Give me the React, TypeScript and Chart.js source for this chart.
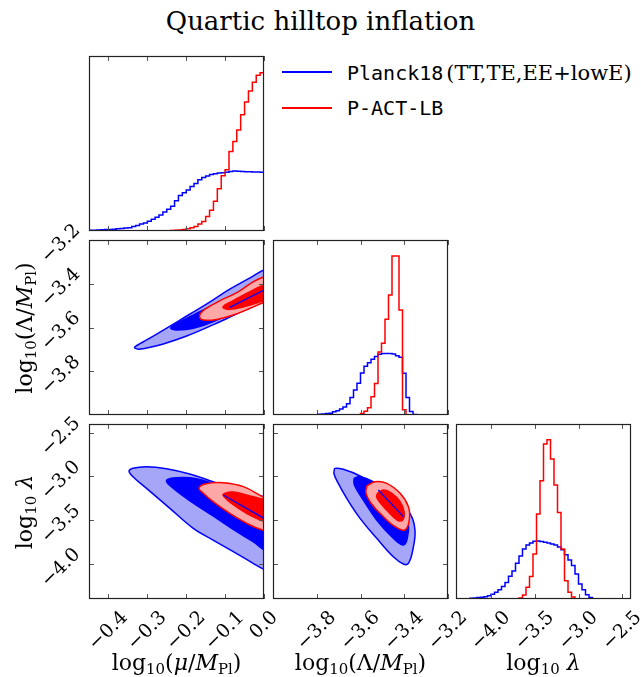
import React, { useEffect, useRef } from "react";
import { Chart, registerables } from "chart.js";
Chart.register(...registerables);

// ---------------- axes ----------------
const muRange = [-0.45, 0.0];
const bigLambdaRange = [-4.0, -3.2];
const lambdaRange = [-4.4, -2.4];
const histRange = [0, 1];
const muTicks = [-0.4, -0.3, -0.2, -0.1, 0.0];
const bigLambdaTicks = [-3.8, -3.6, -3.4, -3.2];
const lambdaTicks = [-4.0, -3.5, -3.0, -2.5];

// ---------------- 1D histograms ----------------
const muBinStart = -0.45;
const muBinWidth = 0.01;
const muHistPlanck = [0.004, 0.005, 0.006, 0.007, 0.008, 0.009, 0.010, 0.013, 0.015, 0.017, 0.019, 0.026, 0.032, 0.040, 0.046, 0.056, 0.067, 0.079, 0.092, 0.108, 0.125, 0.141, 0.173, 0.203, 0.219, 0.235, 0.254, 0.272, 0.293, 0.306, 0.314, 0.323, 0.327, 0.331, 0.333, 0.336, 0.340, 0.343, 0.341, 0.340, 0.339, 0.338, 0.337, 0.337, 0.336];
const muHistACT = [0, 0, 0, 0, 0, 0, 0, 0, 0, 0, 0, 0, 0, 0, 0, 0, 0, 0, 0, 0, 0.002, 0.003, 0.005, 0.006, 0.008, 0.013, 0.019, 0.026, 0.040, 0.055, 0.083, 0.119, 0.170, 0.242, 0.316, 0.350, 0.454, 0.512, 0.577, 0.665, 0.737, 0.800, 0.850, 0.890, 0.904];

const bigLambdaBinStart = -4.0;
const bigLambdaBinWidth = 0.016;
const bigLambdaHistPlanck = [0, 0, 0, 0, 0, 0, 0, 0, 0, 0, 0, 0, 0.002, 0.004, 0.006, 0.008, 0.010, 0.018, 0.025, 0.034, 0.046, 0.065, 0.100, 0.143, 0.181, 0.240, 0.278, 0.298, 0.318, 0.335, 0.347, 0.351, 0.352, 0.351, 0.349, 0.339, 0.330, 0.238, 0.100, 0.020, 0.003, 0, 0, 0, 0, 0, 0, 0, 0, 0];
const bigLambdaHistACT = [0, 0, 0, 0, 0, 0, 0, 0, 0, 0, 0, 0, 0, 0, 0, 0, 0, 0, 0, 0, 0, 0, 0, 0, 0.002, 0.008, 0.021, 0.042, 0.105, 0.180, 0.360, 0.410, 0.547, 0.686, 0.909, 0.909, 0.600, 0.030, 0, 0, 0, 0, 0, 0, 0, 0, 0, 0, 0, 0];

const lambdaBinStart = -4.4;
const lambdaBinWidth = 0.04;
const lambdaHistPlanck = [0.002, 0.002, 0.002, 0.002, 0.004, 0.006, 0.008, 0.010, 0.013, 0.019, 0.027, 0.038, 0.053, 0.072, 0.095, 0.130, 0.160, 0.204, 0.246, 0.286, 0.309, 0.320, 0.330, 0.331, 0.328, 0.324, 0.320, 0.314, 0.309, 0.297, 0.282, 0.253, 0.223, 0.192, 0.143, 0.086, 0.053, 0.025, 0.008, 0.001, 0, 0, 0, 0, 0, 0, 0, 0, 0, 0];
const lambdaHistACT = [0, 0, 0, 0, 0, 0, 0, 0, 0, 0, 0, 0, 0, 0, 0, 0, 0, 0, 0.006, 0.023, 0.067, 0.128, 0.257, 0.486, 0.676, 0.886, 0.910, 0.800, 0.651, 0.495, 0.286, 0.105, 0.038, 0.011, 0.002, 0, 0, 0, 0, 0, 0, 0, 0, 0, 0, 0, 0, 0, 0, 0];

// ---------------- 2D contours (boundary points) ----------------
// (mu, Lambda)
const muBigLambdaPlanck2 = [[0.03, -3.32], [0, -3.337], [-0.028, -3.365], [-0.088, -3.425], [-0.148, -3.493], [-0.216, -3.566], [-0.276, -3.630], [-0.302, -3.657], [-0.325, -3.680], [-0.333, -3.692], [-0.322, -3.699], [-0.311, -3.697], [-0.259, -3.675], [-0.199, -3.639], [-0.130, -3.587], [-0.070, -3.538], [0, -3.482], [0.03, -3.46]];
const muBigLambdaPlanck1 = [[0.03, -3.37], [0, -3.383], [-0.053, -3.429], [-0.113, -3.482], [-0.165, -3.528], [-0.208, -3.566], [-0.232, -3.590], [-0.240, -3.603], [-0.225, -3.611], [-0.182, -3.604], [-0.130, -3.573], [-0.062, -3.512], [0, -3.459], [0.03, -3.445]];
const muBigLambdaACT2 = [[0.03, -3.35], [0, -3.368], [-0.028, -3.391], [-0.070, -3.441], [-0.113, -3.477], [-0.148, -3.512], [-0.163, -3.535], [-0.165, -3.555], [-0.156, -3.566], [-0.122, -3.563], [-0.079, -3.543], [-0.036, -3.512], [0, -3.486], [0.03, -3.47]];
const muBigLambdaACT1 = [[0.03, -3.39], [0, -3.406], [-0.036, -3.436], [-0.079, -3.477], [-0.100, -3.497], [-0.105, -3.510], [-0.088, -3.517], [-0.045, -3.502], [0, -3.477], [0.03, -3.46]];
const muBigLambdaPlanckRidge = [[-0.088, -3.508], [0, -3.429], [0.03, -3.405]];

// (mu, lambda)
const muLambdaPlanck2 = [[0.03, -3.26], [0, -3.231], [-0.070, -3.154], [-0.131, -3.059], [-0.191, -2.971], [-0.251, -2.911], [-0.302, -2.888], [-0.337, -2.906], [-0.347, -2.940], [-0.337, -3.002], [-0.302, -3.135], [-0.242, -3.364], [-0.182, -3.592], [-0.131, -3.726], [-0.079, -3.859], [-0.028, -3.992], [0, -4.061], [0.03, -4.10]];
const muLambdaPlanck1 = [[0.03, -3.30], [0, -3.269], [-0.053, -3.200], [-0.113, -3.109], [-0.173, -3.025], [-0.225, -3.014], [-0.250, -3.040], [-0.245, -3.090], [-0.191, -3.276], [-0.131, -3.451], [-0.070, -3.631], [-0.028, -3.745], [0, -3.840], [0.03, -3.92]];
const muLambdaACT2 = [[0.03, -3.28], [0, -3.238], [-0.053, -3.116], [-0.105, -3.071], [-0.152, -3.086], [-0.167, -3.135], [-0.156, -3.192], [-0.131, -3.288], [-0.088, -3.421], [-0.036, -3.554], [0, -3.619], [0.03, -3.66]];
const muLambdaACT1 = [[0.03, -3.28], [0, -3.261], [-0.036, -3.223], [-0.079, -3.177], [-0.100, -3.190], [-0.105, -3.215], [-0.084, -3.306], [-0.045, -3.421], [0, -3.516], [0.03, -3.56]];
const muLambdaPlanckRidge = [[-0.105, -3.211], [0, -3.478], [0.03, -3.55]];

// (Lambda, lambda)
const bigLambdaLambdaPlanck2 = [[-3.721, -2.940], [-3.717, -2.907], [-3.679, -2.918], [-3.602, -2.994], [-3.511, -3.135], [-3.435, -3.269], [-3.374, -3.421], [-3.351, -3.611], [-3.361, -3.840], [-3.381, -3.992], [-3.404, -4.000], [-3.450, -3.917], [-3.526, -3.706], [-3.602, -3.478], [-3.663, -3.249], [-3.706, -3.059], [-3.721, -2.971], [-3.721, -2.940]];
const bigLambdaLambdaPlanck1 = [[-3.630, -3.021], [-3.602, -3.002], [-3.542, -3.059], [-3.465, -3.192], [-3.404, -3.345], [-3.381, -3.535], [-3.386, -3.706], [-3.404, -3.783], [-3.450, -3.706], [-3.526, -3.497], [-3.587, -3.269], [-3.628, -3.097], [-3.630, -3.021]];
const bigLambdaLambdaACT2 = [[-3.572, -3.109], [-3.534, -3.059], [-3.480, -3.078], [-3.419, -3.192], [-3.381, -3.345], [-3.377, -3.497], [-3.397, -3.611], [-3.442, -3.574], [-3.503, -3.440], [-3.552, -3.306], [-3.575, -3.192], [-3.572, -3.109]];
const bigLambdaLambdaACT1 = [[-3.523, -3.192], [-3.496, -3.154], [-3.457, -3.192], [-3.419, -3.288], [-3.401, -3.402], [-3.407, -3.497], [-3.432, -3.497], [-3.473, -3.402], [-3.508, -3.306], [-3.526, -3.238], [-3.523, -3.192]];
const bigLambdaLambdaPlanckRidge = [[-3.519, -3.154], [-3.404, -3.459]];

// ---------------- styles ----------------
const BLUE = "#0000ff";
const BLUE_LIGHT = "#a6a6f8";
const RED = "#ff0000";
const RED_LIGHT = "#ffa8a8";
const SERIF = '"DejaVu Serif", serif';
const MONO = '"DejaVu Sans Mono", monospace';
const TICK_FONT = 'normal normal 400 19px "DejaVu Serif", serif';

const COLS = [89, 273, 456];
const ROWS = [56, 240, 424];
const PW = 175;
const PH = 175;

function histPoints(start: number, width: number, values: number[]) {
  const pts = values.map((v, i) => ({ x: start + i * width, y: v }));
  pts.push({ x: start + values.length * width, y: values[values.length - 1] });
  return pts;
}

function histDataset(start: number, width: number, values: number[], color: string) {
  return {
    data: histPoints(start, width, values),
    borderColor: color,
    borderWidth: 1.5,
    stepped: "before",
    pointRadius: 0,
    fill: false,
    tension: 0,
  };
}

function contourDataset(pts: number[][], line: string, fillColor: string) {
  return {
    data: pts.map(([x, y]) => ({ x, y })),
    borderColor: line,
    backgroundColor: fillColor,
    borderWidth: 1.5,
    fill: "shape",
    tension: 0.4,
    pointRadius: 0,
  };
}

function lineDataset(pts: number[][], color: string) {
  return {
    data: pts.map(([x, y]) => ({ x, y })),
    borderColor: color,
    borderWidth: 1.3,
    fill: false,
    tension: 0,
    pointRadius: 0,
  };
}

function contourSet(p2: number[][], p1: number[][], a2: number[][], a1: number[][], ridge: number[][]) {
  return [
    contourDataset(p2, BLUE, BLUE_LIGHT),
    contourDataset(p1, BLUE, BLUE),
    contourDataset(a2, RED, RED_LIGHT),
    contourDataset(a1, RED, RED),
    lineDataset(ridge, BLUE),
  ];
}

function fmt(v: number) {
  return v.toFixed(1).replace("-", "\u2212");
}

type Spec = {
  col: number;
  row: number;
  x: number[];
  y: number[];
  xTicks: number[];
  yTicks: number[] | null;
  xLabels: boolean;
  yLabels: boolean;
  datasets: any[];
};

const specs: Spec[] = [
  {
    col: 0, row: 0, x: muRange, y: histRange, xTicks: muTicks, yTicks: null, xLabels: false, yLabels: false,
    datasets: [histDataset(muBinStart, muBinWidth, muHistPlanck, BLUE), histDataset(muBinStart, muBinWidth, muHistACT, RED)],
  },
  {
    col: 0, row: 1, x: muRange, y: bigLambdaRange, xTicks: muTicks, yTicks: bigLambdaTicks, xLabels: false, yLabels: true,
    datasets: contourSet(muBigLambdaPlanck2, muBigLambdaPlanck1, muBigLambdaACT2, muBigLambdaACT1, muBigLambdaPlanckRidge),
  },
  {
    col: 1, row: 1, x: bigLambdaRange, y: histRange, xTicks: bigLambdaTicks, yTicks: null, xLabels: false, yLabels: false,
    datasets: [histDataset(bigLambdaBinStart, bigLambdaBinWidth, bigLambdaHistPlanck, BLUE), histDataset(bigLambdaBinStart, bigLambdaBinWidth, bigLambdaHistACT, RED)],
  },
  {
    col: 0, row: 2, x: muRange, y: lambdaRange, xTicks: muTicks, yTicks: lambdaTicks, xLabels: true, yLabels: true,
    datasets: contourSet(muLambdaPlanck2, muLambdaPlanck1, muLambdaACT2, muLambdaACT1, muLambdaPlanckRidge),
  },
  {
    col: 1, row: 2, x: bigLambdaRange, y: lambdaRange, xTicks: bigLambdaTicks, yTicks: lambdaTicks, xLabels: true, yLabels: false,
    datasets: contourSet(bigLambdaLambdaPlanck2, bigLambdaLambdaPlanck1, bigLambdaLambdaACT2, bigLambdaLambdaACT1, bigLambdaLambdaPlanckRidge),
  },
  {
    col: 2, row: 2, x: lambdaRange, y: histRange, xTicks: lambdaTicks, yTicks: null, xLabels: true, yLabels: false,
    datasets: [histDataset(lambdaBinStart, lambdaBinWidth, lambdaHistPlanck, BLUE), histDataset(lambdaBinStart, lambdaBinWidth, lambdaHistACT, RED)],
  },
];

function Panel({ spec }: { spec: Spec }) {
  const ref = useRef<HTMLCanvasElement>(null);
  const L = COLS[spec.col];
  const T = ROWS[spec.row];
  const pl = spec.col === 0 ? L : 4;
  const pr = spec.row === 2 ? 22 : 4;
  const pt = spec.col === 0 && spec.row > 0 ? 24 : 4;
  const pb = spec.row === 2 ? 60 : 4;
  const cw = PW + pl + pr;
  const ch = PH + pt + pb;

  useEffect(() => {
    const n = spec.datasets.length;
    const datasets = spec.datasets.map((d, i) => ({ ...d, order: n - i }));
    const framePlugin = {
      id: "frame" + spec.col + spec.row,
      afterDraw(chart: any) {
        const { ctx, chartArea: a, scales } = chart;
        const xs = scales.x;
        const ys = scales.y;
        ctx.save();
        ctx.strokeStyle = "#555";
        ctx.lineWidth = 1;
        ctx.beginPath();
        for (const v of spec.xTicks) {
          const px = Math.round(xs.getPixelForValue(v)) + 0.5;
          ctx.moveTo(px, a.top);
          ctx.lineTo(px, a.top + 5);
          ctx.moveTo(px, a.bottom);
          ctx.lineTo(px, a.bottom - 5);
        }
        if (spec.yTicks) {
          for (const v of spec.yTicks) {
            const py = Math.round(ys.getPixelForValue(v)) + 0.5;
            ctx.moveTo(a.left, py);
            ctx.lineTo(a.left + 5, py);
            ctx.moveTo(a.right, py);
            ctx.lineTo(a.right - 5, py);
          }
        }
        ctx.stroke();
        ctx.strokeStyle = "#222";
        ctx.lineWidth = 1.2;
        ctx.strokeRect(a.left + 0.5, a.top + 0.5, a.right - a.left - 1, a.bottom - a.top - 1);
        ctx.restore();

        ctx.save();
        ctx.fillStyle = "#000";
        ctx.font = TICK_FONT;
        ctx.textAlign = "center";
        ctx.textBaseline = "middle";
        if (spec.xLabels) {
          for (const v of spec.xTicks) {
            const t = fmt(v);
            const w = ctx.measureText(t).width;
            const B = (w + 13) * Math.SQRT1_2;
            const px = xs.getPixelForValue(v);
            ctx.save();
            ctx.translate(px, a.bottom + 11 + B / 2);
            ctx.rotate(-Math.PI / 4);
            ctx.fillText(t, 0, 0);
            ctx.restore();
          }
        }
        if (spec.yLabels && spec.yTicks) {
          for (const v of spec.yTicks) {
            const t = fmt(v);
            const w = ctx.measureText(t).width;
            const B = (w + 13) * Math.SQRT1_2;
            const py = ys.getPixelForValue(v);
            ctx.save();
            ctx.translate(a.left - 7 - B / 2, py + 4);
            ctx.rotate(-Math.PI / 4);
            ctx.fillText(t, 0, 0);
            ctx.restore();
          }
        }
        ctx.restore();
      },
    };
    const chart = new Chart(ref.current as HTMLCanvasElement, {
      type: "line",
      data: { datasets } as any,
      options: {
        animation: false,
        responsive: false,
        events: [],
        layout: { padding: { left: pl, right: pr, top: pt, bottom: pb } },
        plugins: { legend: { display: false }, tooltip: { enabled: false }, title: { display: false } },
        elements: { line: { capBezierPoints: false } as any },
        scales: {
          x: { type: "linear", min: spec.x[0], max: spec.x[1], display: false },
          y: { type: "linear", min: spec.y[0], max: spec.y[1], display: false },
        },
      } as any,
      plugins: [framePlugin],
    });
    return () => chart.destroy();
  }, []);

  return (
    <canvas
      ref={ref}
      width={cw}
      height={ch}
      style={{ position: "absolute", left: L - pl, top: T - pt, width: cw, height: ch }}
    />
  );
}

const subStyle: React.CSSProperties = { fontSize: "0.68em", verticalAlign: "-0.3em", lineHeight: 0 };

function XTitle({ cx, children }: { cx: number; children: React.ReactNode }) {
  return (
    <div
      style={{
        position: "absolute", left: cx - 110, width: 220, top: 649, height: 28, lineHeight: "28px",
        textAlign: "center", fontFamily: SERIF, fontSize: 22, color: "#000", whiteSpace: "nowrap",
      }}
    >
      {children}
    </div>
  );
}

function YTitle({ cy, children }: { cy: number; children: React.ReactNode }) {
  return (
    <div
      style={{
        position: "absolute", left: 25 - 110, width: 220, top: cy - 14, height: 28, lineHeight: "28px",
        textAlign: "center", fontFamily: SERIF, fontSize: 22, color: "#000", whiteSpace: "nowrap",
        transform: "rotate(-90deg)", transformOrigin: "50% 50%",
      }}
    >
      {children}
    </div>
  );
}

export default function App() {
  return (
    <div style={{ position: "absolute", left: 0, top: 0, width: 641, height: 677, background: "#fff", overflow: "hidden" }}>
      <div
        style={{
          position: "absolute", left: 0, width: 641, top: 3, height: 36, lineHeight: "36px", textAlign: "center",
          fontFamily: SERIF, fontSize: 26, color: "#000",
        }}
      >
        Quartic hilltop inflation
      </div>

      {specs.map((s, i) => (
        <Panel key={i} spec={s} />
      ))}

      {/* legend */}
      <div style={{ position: "absolute", left: 282, top: 71, width: 50, height: 2, background: BLUE }} />
      <div style={{ position: "absolute", left: 282, top: 107, width: 50, height: 2, background: RED }} />
      <div style={{ position: "absolute", left: 347, top: 60, height: 26, lineHeight: "26px", whiteSpace: "nowrap", color: "#000" }}>
        <span style={{ fontFamily: MONO, fontSize: 20 }}>Planck18</span>
        <span style={{ fontFamily: SERIF, fontSize: 21, marginLeft: 3 }}>(TT,TE,EE+lowE)</span>
      </div>
      <div style={{ position: "absolute", left: 347, top: 95, height: 26, lineHeight: "26px", whiteSpace: "nowrap", color: "#000" }}>
        <span style={{ fontFamily: MONO, fontSize: 20 }}>P-ACT-LB</span>
      </div>

      <XTitle cx={COLS[0] + PW / 2}>
        log<sub style={subStyle}>10</sub>(<i>μ</i>/<i>M</i><sub style={subStyle}>Pl</sub>)
      </XTitle>
      <XTitle cx={COLS[1] + PW / 2}>
        log<sub style={subStyle}>10</sub>(Λ/<i>M</i><sub style={subStyle}>Pl</sub>)
      </XTitle>
      <XTitle cx={COLS[2] + PW / 2}>
        log<sub style={subStyle}>10</sub> <i>λ</i>
      </XTitle>
      <YTitle cy={ROWS[1] + PH / 2}>
        log<sub style={subStyle}>10</sub>(Λ/<i>M</i><sub style={subStyle}>Pl</sub>)
      </YTitle>
      <YTitle cy={ROWS[2] + PH / 2}>
        log<sub style={subStyle}>10</sub> <i>λ</i>
      </YTitle>
    </div>
  );
}
